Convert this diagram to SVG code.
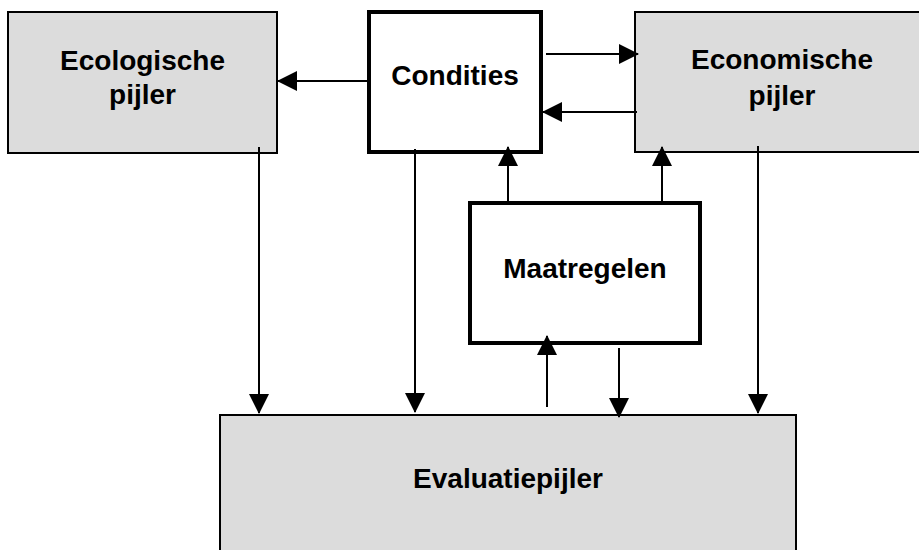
<svg xmlns="http://www.w3.org/2000/svg" width="919" height="550" viewBox="0 0 919 550">
  <style>
    .pillar { fill: #dcdcdc; stroke: #000; stroke-width: 2; }
    .core { fill: #fff; stroke: #000; stroke-width: 4; }
    .label { font-family: "Liberation Sans", Arial, sans-serif; font-weight: bold; font-size: 28px; fill: #000; text-anchor: middle; }
    .link { stroke: #000; stroke-width: 2; fill: none; marker-end: url(#head); }
  </style>
  <defs>
    <marker id="head" markerUnits="userSpaceOnUse" markerWidth="20" markerHeight="20" refX="19" refY="10" orient="auto" viewBox="0 0 20 20">
      <path d="M0,0 L20,10 L0,20 Z" fill="#000"/>
    </marker>
  </defs>
  <rect width="919" height="550" fill="#fff"/>

  <g id="ecologische-pijler">
    <rect class="pillar" x="8" y="12" width="269" height="141"/>
    <text class="label" x="142.5" y="70">Ecologische</text>
    <text class="label" x="142.5" y="104">pijler</text>
  </g>

  <g id="condities">
    <rect class="core" x="369" y="12" width="172" height="140"/>
    <text class="label" x="455" y="85">Condities</text>
  </g>

  <g id="economische-pijler">
    <rect class="pillar" x="635" y="12" width="295" height="140"/>
    <text class="label" x="782" y="69">Economische</text>
    <text class="label" x="782" y="105">pijler</text>
  </g>

  <g id="maatregelen">
    <rect class="core" x="470" y="203" width="230" height="140"/>
    <text class="label" x="585" y="278">Maatregelen</text>
  </g>

  <g id="evaluatiepijler">
    <rect class="pillar" x="220" y="415" width="576" height="150"/>
    <text class="label" x="508" y="488">Evaluatiepijler</text>
  </g>

  <g id="connectors">
    <line class="link" x1="369" y1="81" x2="278" y2="81"/>
    <line class="link" x1="546" y1="54" x2="638" y2="54"/>
    <line class="link" x1="637" y1="112" x2="543" y2="112"/>
    <line class="link" x1="508" y1="202" x2="508" y2="147"/>
    <line class="link" x1="662" y1="202" x2="662" y2="147"/>
    <line class="link" x1="259" y1="147" x2="259" y2="413"/>
    <line class="link" x1="415" y1="149" x2="415" y2="412"/>
    <line class="link" x1="758" y1="146" x2="758" y2="413"/>
    <line class="link" x1="547" y1="407" x2="547" y2="336"/>
    <line class="link" x1="619" y1="348" x2="619" y2="417"/>
  </g>
</svg>
